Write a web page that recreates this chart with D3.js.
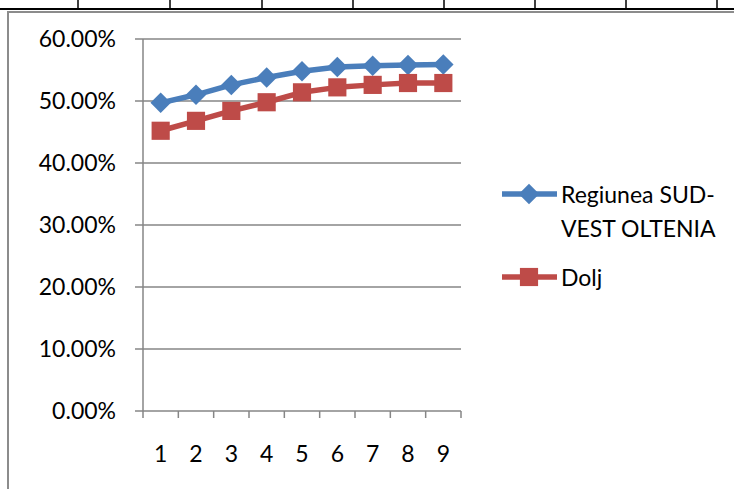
<!DOCTYPE html>
<html>
<head>
<meta charset="utf-8">
<script src="https://cdn.jsdelivr.net/npm/d3@7/dist/d3.min.js"></script>
<style>
  body { margin: 0; background: #fff; }
  svg { display: block; font-family: Lato, "Open Sans", sans-serif; }
</style>
</head>
<body>
<svg id="chart" width="734" height="489"></svg>
<script>
// data
const categories = ["1", "2", "3", "4", "5", "6", "7", "8", "9"];
const regiuneaValues = [0.497, 0.510, 0.526, 0.538, 0.548, 0.555, 0.557, 0.558, 0.559];
const doljValues = [0.452, 0.468, 0.484, 0.498, 0.514, 0.522, 0.526, 0.529, 0.529];
const yTicks = [0, 0.1, 0.2, 0.3, 0.4, 0.5, 0.6];
const seriesNames = ["Regiunea SUD-VEST OLTENIA", "Dolj"];

const svg = d3.select("#chart");
const fontSize = 23;
const gray = "#868686";

// table border above the chart
const cellEdges = [78, 170, 262, 353, 444, 535, 626, 717];
svg.append("line")
  .attr("x1", 0).attr("x2", 734).attr("y1", 9).attr("y2", 9)
  .attr("stroke", "#000").attr("stroke-width", 2);
svg.selectAll(".cell-edge")
  .data(cellEdges)
  .enter().append("line")
  .attr("x1", d => d).attr("x2", d => d)
  .attr("y1", 0).attr("y2", 9)
  .attr("stroke", "#000").attr("stroke-width", 1.5);

// chart frame
svg.append("path")
  .attr("d", "M8,489 L8,12 L734,12")
  .attr("fill", "none")
  .attr("stroke", "#8c8c8c")
  .attr("stroke-width", 2);

const margin = { left: 143, right: 461, top: 39, bottom: 411 };

const x = d3.scaleBand().domain(categories).range([margin.left, margin.right]).paddingInner(0).paddingOuter(0);
const y = d3.scaleLinear().domain([0, 0.6]).range([margin.bottom, margin.top]);
const cx = d => x(d) + x.bandwidth() / 2;

// gridlines + y ticks
svg.selectAll(".grid")
  .data(yTicks)
  .enter().append("line")
  .attr("x1", margin.left - 8).attr("x2", margin.right)
  .attr("y1", d => y(d)).attr("y2", d => y(d))
  .attr("stroke", gray).attr("stroke-width", 1.5);

svg.selectAll(".ylab")
  .data(yTicks)
  .enter().append("text")
  .attr("x", 116)
  .attr("y", d => y(d) + 8)
  .attr("text-anchor", "end")
  .style("font-size", fontSize + "px")
  .attr("fill", "#000")
  .text(d => d3.format(".2%")(d));

// y axis line
svg.append("line")
  .attr("x1", margin.left).attr("x2", margin.left)
  .attr("y1", margin.top).attr("y2", margin.bottom)
  .attr("stroke", gray).attr("stroke-width", 1.5);

// x ticks at band edges
const xEdges = categories.map(c => x(c)).concat([margin.right]);
svg.selectAll(".xtick")
  .data(xEdges)
  .enter().append("line")
  .attr("x1", d => d).attr("x2", d => d)
  .attr("y1", margin.bottom).attr("y2", margin.bottom + 7)
  .attr("stroke", gray).attr("stroke-width", 1.5);

svg.selectAll(".xlab")
  .data(categories)
  .enter().append("text")
  .attr("x", d => cx(d))
  .attr("y", 462)
  .attr("text-anchor", "middle")
  .style("font-size", fontSize + "px")
  .attr("fill", "#000")
  .text(d => d);

// series
const series = [
  { name: seriesNames[0], values: regiuneaValues, color: "#4A7EBB", marker: "diamond" },
  { name: seriesNames[1], values: doljValues, color: "#BE4B48", marker: "square" }
];

const line = d3.line()
  .x((d, i) => cx(categories[i]))
  .y(d => y(d));

const diamond = d3.symbol(d3.symbolSquare, 210)();
const square = d3.symbol(d3.symbolSquare, 330)();

function drawMarker(g, px, py, s) {
  if (s.marker === "diamond") {
    g.append("path").attr("d", diamond)
      .attr("transform", `translate(${px},${py}) rotate(45)`)
      .attr("fill", s.color);
  } else {
    g.append("path").attr("d", square)
      .attr("transform", `translate(${px},${py})`)
      .attr("fill", s.color);
  }
}

series.forEach(s => {
  svg.append("path")
    .datum(s.values)
    .attr("fill", "none")
    .attr("stroke", s.color)
    .attr("stroke-width", 5.5)
    .attr("stroke-linejoin", "round")
    .attr("d", line);
  const g = svg.append("g");
  s.values.forEach((v, i) => drawMarker(g, cx(categories[i]), y(v), s));
});

// legend
const legendRows = [
  { s: series[0], y: 194, lines: ["Regiunea SUD-", "VEST OLTENIA"] },
  { s: series[1], y: 277, lines: ["Dolj"] }
];
legendRows.forEach(r => {
  const g = svg.append("g");
  g.append("line")
    .attr("x1", 502).attr("x2", 557)
    .attr("y1", r.y).attr("y2", r.y)
    .attr("stroke", r.s.color).attr("stroke-width", 5.5);
  drawMarker(g, 529, r.y, r.s);
  r.lines.forEach((t, i) => {
    g.append("text")
      .attr("x", 561)
      .attr("y", r.y + 9 + i * 34)
      .style("font-size", fontSize + "px")
      .attr("fill", "#000")
      .text(t);
  });
});
</script>
</body>
</html>
